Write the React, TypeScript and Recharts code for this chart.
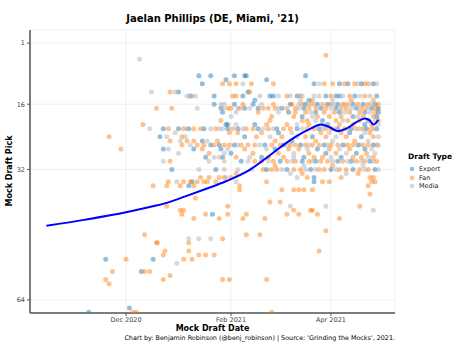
import { CartesianGrid, Scatter, ScatterChart, XAxis, YAxis } from "recharts";

// x = days since 1 Dec 2020, y = mock draft pick
const X_TICKS = [0, 62, 121];
const X_LABELS: Record<number, string> = { 0: "Dec 2020", 62: "Feb 2021", 121: "Apr 2021" };
const Y_TICKS = [1, 16, 32, 64];

const expertRows: [number, number[]][] = [
  [9, [43, 50, 64, 70, 71, 106]],
  [10, [59, 83]],
  [11, [45, 111, 126, 131, 139, 146]],
  [13, [31, 72]],
  [14, [38, 52, 69, 85, 87, 101, 118, 124, 126, 135, 148]],
  [15, [76, 108]],
  [16, [52, 64, 75, 97, 106, 113, 119, 125, 134, 140, 147]],
  [17, [56, 70, 78, 92, 105, 115, 124, 136, 145, 149]],
  [18, [57, 96, 112, 126, 141, 149]],
  [19, [104, 134, 148]],
  [20, [116, 143]],
  [21, [59, 60, 76, 119, 141]],
  [22, [22, 31, 37, 46, 60, 66, 78, 89, 101, 114, 125, 133, 142, 148]],
  [23, [90, 132]],
  [24, [20, 70, 110, 139]],
  [25, [45, 98]],
  [26, [50, 55, 64, 82, 93, 103, 117, 128, 137, 146]],
  [27, [22, 40, 56, 88, 113, 141]],
  [28, [62, 118, 136]],
  [29, [47, 57, 80, 105, 127]],
  [30, [68, 91, 104, 112, 125, 133, 144]],
  [32, [27, 53, 83, 95, 109, 121, 134, 147]],
  [34, [111]],
  [35, [39, 111]],
  [36, [37]],
  [43, [51]],
  [54, [-12, 16]],
  [57, [9]],
  [66, [2]],
  [67, [-22]],
];

const fanRows: [number, number[]][] = [
  [4, [118]],
  [11, [57, 61, 65, 74, 87, 117, 122, 129, 135, 141, 143]],
  [13, [26, 73]],
  [14, [63, 65, 95, 103, 121, 132, 141]],
  [15, [110, 133, 146]],
  [16, [69, 87, 98, 104, 109, 116, 121, 128, 131, 137, 143, 149]],
  [17, [18, 27, 60, 62, 67, 81, 84, 88, 95, 100, 108, 112, 118, 127, 130, 139, 142, 148]],
  [18, [78, 100, 106, 117, 123, 132, 138, 147]],
  [19, [86, 99, 113, 120, 127, 140, 146]],
  [20, [56, 85, 104, 107, 124, 131, 138, 149]],
  [21, [10, 83, 95, 108, 126, 134, 145]],
  [22, [25, 34, 40, 44, 53, 63, 71, 75, 84, 93, 97, 107, 111, 118, 121, 129, 136, 140, 145]],
  [23, [61, 66, 80, 115, 127, 144]],
  [24, [-10, 33, 77, 92, 106, 118, 130, 146]],
  [25, [26, 36, 40, 54, 88, 112, 135]],
  [26, [33, 42, 46, 52, 58, 61, 68, 72, 76, 86, 91, 97, 100, 106, 110, 114, 121, 125, 131, 134, 140, 143, 148]],
  [27, [-3, 45, 70, 96, 102, 120, 132]],
  [28, [49, 75, 90, 108, 124, 142]],
  [29, [65, 84, 93, 111, 116, 134, 139, 146]],
  [30, [26, 76, 80, 87, 95, 100, 108, 115, 119, 128, 136, 141, 148]],
  [31, [88, 122]],
  [32, [81, 86, 89, 99, 103, 114, 117, 126, 130, 138, 143]],
  [33, [65, 104, 137]],
  [34, [44, 49, 55, 58, 62, 107, 127, 144, 146]],
  [35, [25, 34, 38, 42, 46, 48, 53, 83, 116, 120, 145, 147]],
  [36, [16, 24, 32, 40, 67, 143]],
  [37, [67, 92, 99, 102, 105, 110]],
  [38, [144]],
  [39, [41]],
  [40, [85, 91]],
  [41, [24, 60, 138]],
  [42, [32, 34, 99, 109, 110]],
  [43, [33, 47, 60, 71, 95, 102, 113]],
  [44, [40, 55, 69, 82, 126]],
  [47, [118]],
  [48, [11, 71, 79]],
  [49, [57]],
  [50, [18, 18.5, 37]],
  [52, [23, 37, 114]],
  [53, [22, 43, 47, 52]],
  [54, [0, 34, 39]],
  [57, [-8, 11, 14]],
  [58, [26]],
  [59, [-12, 22, 57, 61, 83]],
  [60, [-10]],
  [67, [4, 6, 86]],
];

const mediaRows: [number, number[]][] = [
  [5, [8]],
  [11, [69, 114, 137, 148]],
  [13, [15, 29]],
  [14, [36, 39, 41, 79, 90, 97, 104, 111, 114, 128, 138, 144]],
  [15, [103, 122]],
  [16, [56, 58, 80, 102, 111, 123, 129, 145]],
  [17, [42, 57, 66, 73, 90, 102, 121, 133, 146]],
  [18, [65, 90, 109, 129, 144]],
  [19, [62, 110, 137, 148]],
  [20, [112, 128, 147]],
  [21, [65, 101, 116, 149]],
  [22, [14, 36, 50, 55, 57, 69, 81, 87, 104, 116, 123, 131, 138, 147]],
  [23, [29, 98, 120, 141]],
  [24, [24, 35, 85, 101, 124, 149]],
  [25, [32, 48, 122, 143]],
  [26, [38, 66, 79, 95, 108, 119, 129, 138, 149]],
  [27, [25, 60, 83, 107, 126, 145]],
  [28, [31, 58, 99, 130, 147]],
  [29, [52, 55, 73, 99, 121, 143]],
  [30, [22, 49, 58, 72, 84, 98, 110, 122, 131, 139, 146]],
  [31, [105, 140]],
  [32, [43, 58, 66, 74, 92, 106, 112, 124, 141, 149]],
  [33, [97, 130]],
  [34, [59, 101]],
  [35, [30, 65]],
  [41, [97, 118]],
  [42, [146]],
  [49, [37, 43, 50]],
  [55, [30]],
];

// loess trend
const trendDays = [-47, -24, 0, 12, 24, 35, 47, 59, 73, 85, 97, 109, 115, 120, 125, 130, 136, 141, 144, 146, 149];
const trendPicks = [45.8, 44.3, 42.5, 41.4, 40.2, 38.6, 36.8, 34.9, 32.1, 28.5, 24.8, 22.0, 21.0, 21.6, 22.6, 22.0, 20.4, 19.5, 20.0, 21.0, 19.8];

const TYPES = [
  { name: "Expert", rows: expertRows, color: "#1f77b4" },
  { name: "Fan", rows: fanRows, color: "#ff7f0e" },
  { name: "Media", rows: mediaRows, color: "#b0b0b8" },
];

const flatten = (rows: [number, number[]][]) =>
  rows.flatMap(([pick, days]) => days.map((d) => ({ x: d, y: pick })));

const trend = trendDays.map((d, i) => ({ x: d, y: trendPicks[i] }));

const FONT = "'DejaVu Sans', sans-serif";

export default function App() {
  return (
    <div style={{ position: "absolute", left: 0, top: 0, width: 468, height: 351, fontFamily: FONT, background: "#fff" }}>
      <div style={{ position: "absolute", left: 30, width: 365, top: 13, textAlign: "center", fontSize: 10, fontWeight: "bold", color: "#000" }}>
        Jaelan Phillips (DE, Miami, '21)
      </div>
      <ScatterChart width={468} height={351} margin={{ top: 30, right: 73, bottom: 0, left: 0 }}>
        <CartesianGrid stroke="#ececec" strokeWidth={0.8} />
        <XAxis
          type="number"
          dataKey="x"
          domain={[-56.7, 158.8]}
          ticks={X_TICKS}
          tickFormatter={(v: number) => X_LABELS[v] ?? ""}
          allowDataOverflow
          height={38}
          tickSize={3}
          tickMargin={1}
          axisLine={{ stroke: "#555", strokeWidth: 1.5 }}
          tickLine={{ stroke: "#555" }}
          tick={{ fontSize: 6.5, fill: "#444", fontFamily: FONT }}
        />
        <YAxis
          type="number"
          dataKey="y"
          reversed
          domain={[-2.2, 67.2]}
          ticks={Y_TICKS}
          allowDataOverflow
          width={30}
          tickSize={3}
          tickMargin={2}
          axisLine={{ stroke: "#555", strokeWidth: 1.5 }}
          tickLine={{ stroke: "#555" }}
          tick={{ fontSize: 6.5, fill: "#444", fontFamily: FONT }}
        />
        {TYPES.map((t) => (
          <Scatter
            key={t.name}
            name={t.name}
            data={flatten(t.rows)}
            isAnimationActive={false}
            shape={(p: any) => <circle cx={p.cx} cy={p.cy} r={2.5} fill={t.color} fillOpacity={0.48} />}
          />
        ))}
        <Scatter
          name="trend"
          data={trend}
          isAnimationActive={false}
          line={{ stroke: "#0000ff", strokeWidth: 2 }}
          lineJointType="monotoneX"
          shape={() => <g />}
        />
      </ScatterChart>
      <div
        style={{
          position: "absolute",
          left: 9,
          top: 171,
          transform: "translate(-50%, -50%) rotate(-90deg)",
          fontSize: 8,
          fontWeight: "bold",
          whiteSpace: "nowrap",
          color: "#000",
        }}
      >
        Mock Draft Pick
      </div>
      <div style={{ position: "absolute", left: 30, width: 365, top: 324, textAlign: "center", fontSize: 8, fontWeight: "bold", color: "#000" }}>
        Mock Draft Date
      </div>
      <div style={{ position: "absolute", right: 73, top: 334, fontSize: 6.4, whiteSpace: "nowrap", color: "#000" }}>
        Chart by: Benjamin Robinson (@benj_robinson) | Source: 'Grinding the Mocks', 2021.
      </div>
      <div style={{ position: "absolute", left: 408, top: 152, fontSize: 7.5, fontWeight: "bold", color: "#000" }}>
        Draft Type
      </div>
      {TYPES.map((t, i) => (
        <div key={t.name} style={{ position: "absolute", left: 409, top: 165 + i * 8.6, height: 8, display: "flex", alignItems: "center", fontSize: 6.5, color: "#222" }}>
          <svg width={6} height={6} style={{ marginRight: 4 }}>
            <circle cx={3} cy={3} r={2.3} fill={t.color} fillOpacity={0.48} />
          </svg>
          {t.name}
        </div>
      ))}
    </div>
  );
}
